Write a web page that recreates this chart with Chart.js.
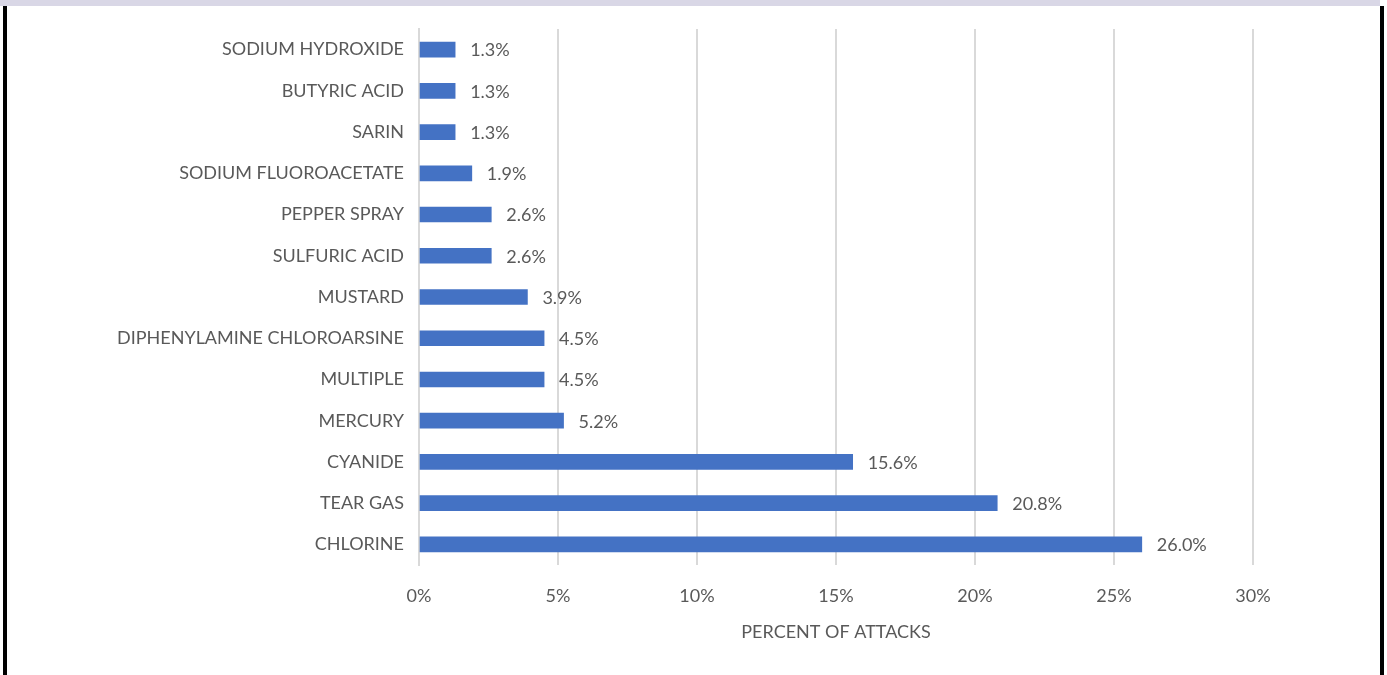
<!DOCTYPE html>
<html>
<head>
<meta charset="utf-8">
<script src="https://cdn.jsdelivr.net/npm/chart.js@4"></script>
<style>
  html, body { margin: 0; padding: 0; background: #fff; }
  #wrap { position: relative; width: 1387px; height: 675px; overflow: hidden; }
  #topbar { position: absolute; left: 0; top: 0; width: 1380px; height: 6px; background: #d9d7e6; }
  #lborder { position: absolute; left: 3px; top: 6px; width: 4px; height: 669px; background: #000; }
  #rborder { position: absolute; left: 1380px; top: 6px; width: 4px; height: 669px; background: #000; }
  canvas { position: absolute; left: 0; top: 0; }
</style>
</head>
<body>
<div id="wrap">
  <canvas id="grafico" width="1387" height="675"></canvas>
  <div id="topbar"></div>
  <div id="lborder"></div>
  <div id="rborder"></div>
</div>
<script>
const categorias = [
  'SODIUM HYDROXIDE', 'BUTYRIC ACID', 'SARIN', 'SODIUM FLUOROACETATE',
  'PEPPER SPRAY', 'SULFURIC ACID', 'MUSTARD', 'DIPHENYLAMINE CHLOROARSINE',
  'MULTIPLE', 'MERCURY', 'CYANIDE', 'TEAR GAS', 'CHLORINE'
];
const percentuais = [1.3, 1.3, 1.3, 1.9, 2.6, 2.6, 3.9, 4.5, 4.5, 5.2, 15.6, 20.8, 26.0];
const ticksX = [0, 5, 10, 15, 20, 25, 30];
const tituloX = 'PERCENT OF ATTACKS';

const fonte = 'Lato';
const cinza = '#595959';

// rótulos de valor ao lado de cada barra
const rotulos = {
  id: 'rotulos',
  afterDatasetsDraw(chart) {
    const ctx = chart.ctx;
    const meta = chart.getDatasetMeta(0);
    ctx.save();
    ctx.font = '18px ' + fonte;
    ctx.fillStyle = cinza;
    ctx.textAlign = 'left';
    ctx.textBaseline = 'middle';
    meta.data.forEach((bar, i) => {
      const v = percentuais[i];
      ctx.fillText(v.toFixed(1) + '%', bar.x + 15, bar.y + 1);
    });
    ctx.restore();
  }
};

const ctx = document.getElementById('grafico').getContext('2d');
new Chart(ctx, {
  type: 'bar',
  data: {
    labels: categorias,
    datasets: [{
      data: percentuais,
      backgroundColor: '#4472C4',
      barThickness: 15
    }]
  },
  options: {
    indexAxis: 'y',
    responsive: false,
    animation: false,
    layout: { padding: { top: 29, right: 134, left: 0, bottom: 0 } },
    plugins: { legend: { display: false }, tooltip: { enabled: false } },
    scales: {
      x: {
        min: 0,
        max: 30,
        afterBuildTicks: s => { s.ticks = ticksX.map(v => ({ value: v })); },
        afterFit: s => { s.height = 675 - 565; },
        grid: { color: '#d9d9d9', lineWidth: 2, drawTicks: false },
        border: { display: false },
        ticks: {
          padding: 20,
          color: cinza,
          font: { family: fonte, size: 18 },
          callback: v => v + '%'
        },
        title: {
          display: true,
          text: tituloX,
          color: cinza,
          font: { family: fonte, size: 18 },
          padding: { top: 16, bottom: 32 }
        }
      },
      y: {
        afterFit: s => { s.width = 419; },
        grid: { display: false, drawTicks: false },
        border: { display: true, color: '#d9d9d9', width: 2 },
        ticks: {
          padding: 15,
          color: cinza,
          font: { family: fonte, size: 18 }
        }
      }
    }
  },
  plugins: [rotulos]
});
</script>
</body>
</html>
